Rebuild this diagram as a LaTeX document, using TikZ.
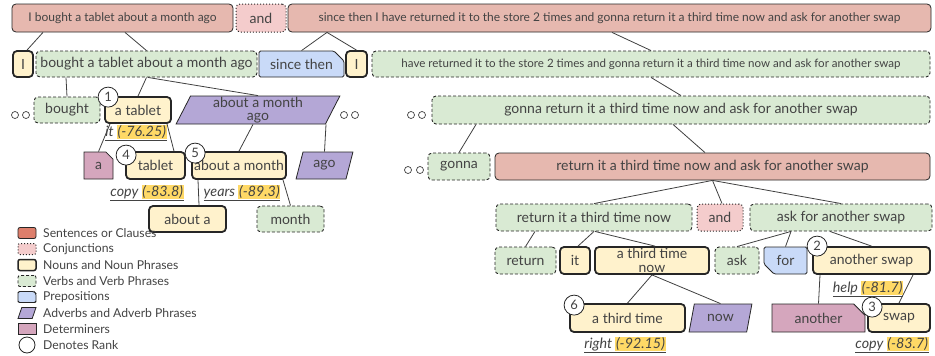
\documentclass[tikz,border=0pt]{standalone}
\usepackage{fontspec}
\setmainfont{Lato}
\usetikzlibrary{shapes.geometric,shapes.misc}

\definecolor{sentfill}{HTML}{E6B8AF}
\definecolor{sentkey}{HTML}{DD7E6B}
\definecolor{conjfill}{HTML}{F4CCCC}
\definecolor{nounfill}{HTML}{FFF2CC}
\definecolor{verbfill}{HTML}{D9EAD3}
\definecolor{prepfill}{HTML}{C9DAF8}
\definecolor{advfill}{HTML}{B4A7D6}
\definecolor{detfill}{HTML}{D5A6BD}
\definecolor{hlyellow}{HTML}{FFD966}
\definecolor{inkgray}{HTML}{434343}

\newcommand{\hlnum}[1]{{\setlength{\fboxsep}{0.6pt}\colorbox{hlyellow}{#1}}}

\begin{document}
\begin{tikzpicture}[x=1pt,y=-1pt,
	every node/.style={text=inkgray,inner sep=0pt},
	wordbox/.style={draw=black!85,rounded corners=4pt,minimum height=26,
		align=center,font=\fontsize{14}{13.5}\selectfont},
	sent/.style={wordbox,fill=sentfill,line width=0.8pt},
	conj/.style={wordbox,fill=conjfill,dotted,line width=1pt},
	noun/.style={wordbox,fill=nounfill,line width=1.8pt},
	verb/.style={wordbox,fill=verbfill,dash pattern=on 3pt off 2pt,line width=0.9pt},
	prep/.style={wordbox,chamfered rectangle,chamfered rectangle corners=north east,
		chamfered rectangle sep=5pt,rounded corners=1.5pt,fill=prepfill,line width=0.8pt},
	adv/.style={wordbox,trapezium,trapezium left angle=70,trapezium right angle=110,
		trapezium stretches=true,rounded corners=0pt,fill=advfill,line width=0.8pt},
	det/.style={wordbox,chamfered rectangle,chamfered rectangle corners=north east,
		chamfered rectangle sep=6pt,rounded corners=0pt,fill=detfill,line width=0.8pt},
	topword/.style={font=\fontsize{12}{12}\selectfont},
	smallword/.style={font=\fontsize{11.55}{12}\selectfont},
	rank/.style={circle,draw=black!85,fill=white,line width=0.8pt,minimum size=20,
		font=\fontsize{13}{13}\selectfont},
	ellip/.style={circle,draw=black!75,line width=0.7pt,minimum size=7},
	lbl/.style={font=\itshape\fontsize{14.3}{14.3}\selectfont},
	link/.style={draw=black!75,line width=0.8pt},
	keytext/.style={anchor=west,font=\fontsize{12.2}{12.2}\selectfont}]
\useasboundingbox (0,0) rectangle (935,356);

% row 1
\node[sent,topword,minimum width=221,minimum height=28] (sentA) at (122.5,18) {I bought a tablet about a month ago};
\node[conj,minimum width=50,minimum height=28] (andA) at (261,18) {and};
\node[sent,topword,minimum width=643,minimum height=28] (sentB) at (609.5,18) {since then I have returned it to the store 2 times and gonna return it a third time now and ask for another swap};

% row 2
\node[noun,minimum width=20] (nounI) at (23,64) {I};
\node[verb,minimum width=221] (verbBought) at (146.5,64) {bought a tablet about a month ago};
\node[prep,minimum width=85] (prepSince) at (301.5,64) {since then};
\node[noun,minimum width=21] (nounIb) at (356.5,64) {I};
\node[verb,smallword,minimum width=558] (verbHave) at (651,64) {have returned it to the store 2 times and gonna return it a third time now and ask for another swap};

% row 3
\node[ellip] (dotA) at (15,115) {};
\node[ellip] (dotB) at (26,115) {};
\node[verb,minimum width=66] (verbB) at (67,110) {bought};
\node[noun,minimum width=66] (nounTablet) at (138,110) {a tablet};
\node[adv,minimum width=164,minimum height=28] (advMonth) at (258,110) {about a month\\ago};
\node[ellip] (dotC) at (344,115) {};
\node[ellip] (dotD) at (355,115) {};
\node[ellip] (dotE) at (411,115) {};
\node[ellip] (dotF) at (422,115) {};
\node[verb,minimum width=498,minimum height=28] (verbGonnaAll) at (681,110) {gonna return it a third time now and ask for another swap};

% row 4
\node[det,minimum width=29,minimum height=27] (detA) at (98.5,165.5) {a};
\node[noun,minimum width=59,minimum height=27] (nounT) at (155.5,165.5) {tablet};
\node[noun,minimum width=94,minimum height=27] (nounMonth) at (239,165.5) {about a month};
\node[adv,minimum width=57,minimum height=27] (advAgo) at (324.5,165.5) {ago};
\node[ellip] (dotG) at (408,170) {};
\node[ellip] (dotH) at (420,170) {};
\node[verb,minimum width=62,minimum height=27] (verbGonna) at (459,166.5) {gonna};
\node[sent,minimum width=435,minimum height=27] (sentReturn) at (712.5,166.5) {return it a third time now and ask for another swap};

% row 5
\node[noun,minimum width=77] (nounAboutA) at (187.5,219) {about a};
\node[verb,minimum width=67] (verbMonth) at (290.5,219) {month};
\node[verb,minimum width=196,minimum height=27] (verbReturnNow) at (594,217.5) {return it a third time now};
\node[conj,minimum width=46,minimum height=27] (andB) at (720,217.5) {and};
\node[verb,minimum width=182,minimum height=27] (verbAsk) at (841,217.5) {ask for another swap};

% row 6
\node[verb,minimum width=61,minimum height=27] (verbReturn) at (525.5,260.5) {return};
\node[noun,minimum width=30,minimum height=27] (nounIt) at (575,260.5) {it};
\node[noun,minimum width=114,minimum height=27] (nounThirdNow) at (652,260.5) {a third time\\now};
\node[verb,minimum width=44,minimum height=27] (verbA) at (737,260.5) {ask};
\node[prep,chamfered rectangle corners=south west,minimum width=43,minimum height=27] (prepFor) at (785.5,260.5) {for};
\node[noun,minimum width=117,minimum height=27] (nounSwapAll) at (871.5,260.5) {another swap};

% row 7
\node[noun,minimum width=115,minimum height=28] (nounThird) at (627.5,318) {a third time};
\node[adv,minimum width=63,minimum height=28] (advNow) at (720.5,318) {now};
\node[det,minimum width=93,minimum height=28] (detAnother) at (818.5,318) {another};
\node[noun,minimum width=62,minimum height=28] (nounSwap) at (899,318) {swap};

% links
\draw[link] ([xshift=-79.5]sentA.south) -- ([xshift=4]nounI.north);
\draw[link] ([xshift=2.5]sentA.south) -- (verbBought.north);
\draw[link] ([xshift=-282.5]sentB.south) -- (prepSince.north);
\draw[link] ([xshift=-282.5]sentB.south) -- (nounIb.north);
\draw[link] ([xshift=2.5]sentB.south) -- (verbHave.north);
\draw[link] ([xshift=-80.5]verbBought.south) -- (verbB.north);
\draw[link] (verbBought.south) -- (nounTablet.north);
\draw[link] ([xshift=1.5]verbBought.south) -- (advMonth.north);
\draw[link] (verbHave.south) -- (verbGonnaAll.north);
\draw[link] ([xshift=-28]nounTablet.south) -- (detA.north);
\draw[link] ([xshift=29]nounTablet.south) -- ([xshift=18.5]nounT.north);
\draw[link] ([xshift=-5]advMonth.south) -- (nounMonth.north);
\draw[link] ([xshift=68]advMonth.south) -- (advAgo.north);
\draw[link] ([xshift=-205]verbGonnaAll.south) -- (verbGonna.north);
\draw[link] ([xshift=-8]verbGonnaAll.south) -- ([xshift=-7.5]sentReturn.north);
\draw[link] ([xshift=-41]nounMonth.south) -- ([xshift=11.5]nounAboutA.north);
\draw[link] ([xshift=44]nounMonth.south) -- (verbMonth.north);
\draw[link] (sentReturn.south) -- (verbReturnNow.north);
\draw[link] (sentReturn.south) -- ([xshift=2]andB.north);
\draw[link] (sentReturn.south) -- (verbAsk.north);
\draw[link] ([xshift=-59]verbReturnNow.south) -- (verbReturn.north);
\draw[link] (verbReturnNow.south) -- ([xshift=3]nounIt.north);
\draw[link] ([xshift=1]verbReturnNow.south) -- ([xshift=3]nounThirdNow.north);
\draw[link] ([xshift=-50]verbAsk.south) -- (verbA.north);
\draw[link] ([xshift=-50]verbAsk.south) -- (prepFor.north);
\draw[link] ([xshift=-11]verbAsk.south) -- (nounSwapAll.north);
\draw[link] (nounThirdNow.south) -- (nounThird.north);
\draw[link] (nounThirdNow.south) -- (advNow.north);
\draw[link] ([xshift=-51.5]nounSwapAll.south) -- (detAnother.north);
\draw[link] ([xshift=41.5]nounSwapAll.south) -- (nounSwap.north);

% ranks
\node[rank] (rankOne) at ([shift={(4,1)}]nounTablet.north west) {1};
\node[rank] (rankFour) at ([shift={(1,4)}]nounT.north west) {4};
\node[rank] (rankFive) at ([shift={(4,2)}]nounMonth.north west) {5};
\node[rank] (rankTwo) at ([shift={(5,0)}]nounSwapAll.north west) {2};
\node[rank] (rankSix) at ([shift={(5,2)}]nounThird.north west) {6};
\node[rank] (rankThree) at ([shift={(5,4)}]nounSwap.north west) {3};

% scores
\node[lbl] (scoreIt) at (136,133) {\underline{it \hlnum{(-76.25)}}};
\node[lbl] (scoreCopyA) at (147,193) {\underline{copy \hlnum{(-83.8)}}};
\node[lbl] (scoreYears) at (242,193) {\underline{years \hlnum{(-89.3)}}};
\node[lbl] (scoreHelp) at (868,289) {\underline{help \hlnum{(-81.7)}}};
\node[lbl] (scoreRight) at (625,345) {\underline{right \hlnum{(-92.15)}}};
\node[lbl] (scoreCopyB) at (892,345) {\underline{copy \hlnum{(-83.7)}}};

% legend
\node[sent,fill=sentkey,minimum width=18,minimum height=11,rounded corners=2pt] (keySent) at (27,233) {};
\node[conj,minimum width=18,minimum height=11,rounded corners=2pt] (keyConj) at (27,249) {};
\node[noun,minimum width=18,minimum height=11,rounded corners=2pt,line width=1.5pt] (keyNoun) at (27,265) {};
\node[verb,minimum width=18,minimum height=11,rounded corners=2pt] (keyVerb) at (27,281) {};
\node[prep,chamfered rectangle sep=2pt,minimum width=18,minimum height=11,inner sep=1pt] (keyPrep) at (27,297) {};
\node[adv,minimum width=18,minimum height=11,inner sep=1pt] (keyAdv) at (27,313) {};
\node[draw=black!85,fill=detfill,line width=0.8pt,minimum width=18,minimum height=11] (keyDet) at (27,329) {};
\node[rank,minimum size=16] (keyRank) at (27,345) {};
\node[keytext] (txtSent) at (43,233) {Sentences or Clauses};
\node[keytext] (txtConj) at (43,249) {Conjunctions};
\node[keytext] (txtNoun) at (43,265) {Nouns and Noun Phrases};
\node[keytext] (txtVerb) at (43,281) {Verbs and Verb Phrases};
\node[keytext] (txtPrep) at (43,297) {Prepositions};
\node[keytext] (txtAdv) at (43,313) {Adverbs and Adverb Phrases};
\node[keytext] (txtDet) at (43,329) {Determiners};
\node[keytext] (txtRank) at (43,345) {Denotes Rank};
\end{tikzpicture}
\end{document}
